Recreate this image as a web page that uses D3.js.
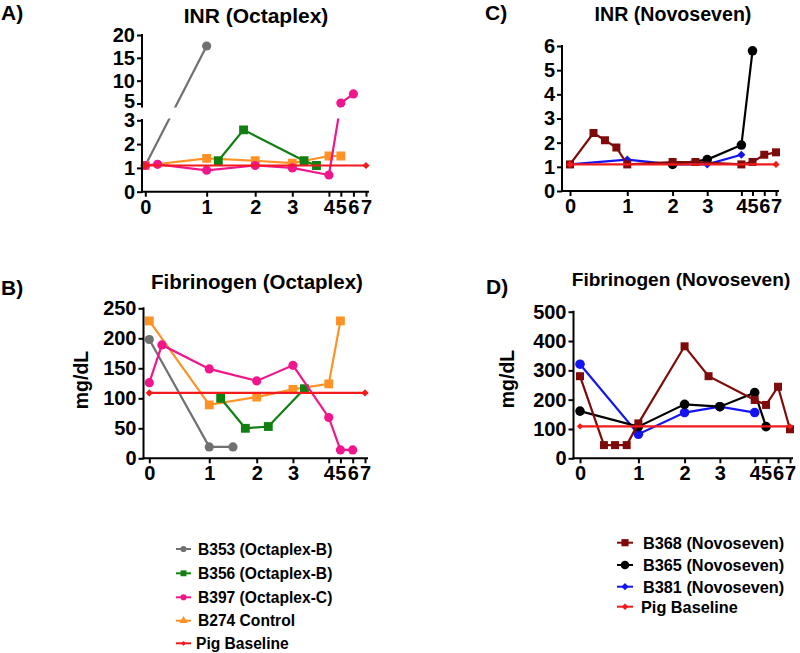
<!DOCTYPE html>
<html>
<head>
<meta charset="utf-8">
<script src="https://cdn.jsdelivr.net/npm/d3@7"></script>
<style>
body { margin: 0; background: #fff; }
svg { font-family: "Liberation Sans", Arial, sans-serif; font-weight: bold; }
.axis path, .axis line { stroke: #000; stroke-width: 2; }
.axis text { font-size: 20px; font-weight: bold; fill: #000; font-family: "Liberation Sans", Arial, sans-serif; }
</style>
</head>
<body>
<script>
// x axis: time points 0..7 (segmented axis, later points squeezed)
var xTicks = [0, 1, 2, 3, 4, 5, 6, 7];
var xTickFrac = [0, 0.278, 0.498, 0.666, 0.832, 0.886, 0.943, 1];

var octaSeries = ["B353 (Octaplex-B)", "B356 (Octaplex-B)", "B397 (Octaplex-C)", "B274 Control", "Pig Baseline"];
var novoSeries = ["B368 (Novoseven)", "B365 (Novoseven)", "B381 (Novoseven)", "Pig Baseline"];

// A) INR (Octaplex)
var inrOctTicksLow = [0, 1, 2, 3];
var inrOctTicksHigh = [5, 10, 15, 20];
var inrB353X = [0, 1];
var inrB353 = [1.1, 17.6];
var inrB356X = [1.24, 1.76, 3.32, 3.66];
var inrB356 = [1.3, 2.6, 1.3, 1.1];
var inrB397X = [0, 0.2, 1, 2, 3, 4, 5, 6];
var inrB397 = [1.1, 1.15, 0.9, 1.1, 1.0, 0.7, 5.1, 7.1];
var inrB274X = [0, 1, 2, 3, 4, 5];
var inrB274 = [1.1, 1.4, 1.3, 1.2, 1.5, 1.5];
var inrPigX = [0, 7];
var inrPig = [1.1, 1.1];

// C) INR (Novoseven)
var inrNovoTicks = [0, 1, 2, 3, 4, 5, 6];
var inrB368X = [0, 0.41, 0.61, 0.81, 1, 2, 2.66, 4, 5, 6, 7];
var inrB368 = [1.1, 2.4, 2.1, 1.8, 1.1, 1.2, 1.2, 1.1, 1.2, 1.5, 1.6];
var inrB365X = [2, 3, 4, 5];
var inrB365 = [1.1, 1.3, 1.9, 5.8];
var inrB381X = [0, 1, 2, 3, 4];
var inrB381 = [1.1, 1.3, 1.1, 1.1, 1.5];

// B) Fibrinogen (Octaplex), mg/dL
var fibOctTicks = [0, 50, 100, 150, 200, 250];
var fibB353X = [0, 1, 1.5];
var fibB353 = [198, 19, 19];
var fibB356X = [1.24, 1.76, 2.32, 3.32];
var fibB356 = [100, 50, 53, 116];
var fibB397X = [0, 0.21, 1, 2, 3, 4, 5, 6];
var fibB397 = [126, 189, 149, 129, 155, 68, 14, 14];
var fibB274X = [0, 1, 2, 3, 4, 5];
var fibB274 = [229, 89, 102, 115, 124, 229];
var fibPigX = [0, 7];
var fibPig = [109, 109];

// D) Fibrinogen (Novoseven), mg/dL
var fibNovoTicks = [0, 100, 200, 300, 400, 500];
var fibB368X = [0, 0.41, 0.6, 0.8, 1, 2, 2.68, 4, 5, 6, 7];
var fibB368 = [280, 45, 45, 45, 119, 382, 280, 199, 182, 244, 99];
var fibB365X = [0, 1, 2, 3, 4, 5];
var fibB365 = [161, 108, 184, 176, 224, 108];
var fibB381X = [0, 1, 2, 3, 4];
var fibB381 = [321, 82, 156, 176, 156];

var style = {
  "B353 (Octaplex-B)": { color: "#707070", shape: "circle", size: 66 },
  "B356 (Octaplex-B)": { color: "#118011", shape: "square", size: 78 },
  "B397 (Octaplex-C)": { color: "#f0168c", shape: "circle", size: 66 },
  "B274 Control": { color: "#ff9225", shape: "square", size: 78 },
  "Pig Baseline": { color: "#f21a1a", shape: "diamond", size: 26 },
  "B368 (Novoseven)": { color: "#7f0a0a", shape: "square", size: 64 },
  "B365 (Novoseven)": { color: "#000000", shape: "circle", size: 72 },
  "B381 (Novoseven)": { color: "#1414f0", shape: "diamond", size: 32 }
};

var W = 800, H = 653;
var svg = d3.select("body").append("svg").attr("width", W).attr("height", H);
var defs = svg.append("defs");

function symbolPath(shape, size) {
  var t = shape == "circle" ? d3.symbolCircle : d3.symbolSquare;
  return d3.symbol().type(t).size(size)();
}

function addMarker(g, shape, size, color, x, y) {
  g.append("path")
    .attr("d", symbolPath(shape, size))
    .attr("fill", color)
    .attr("transform", "translate(" + x + "," + y + ")" + (shape == "diamond" ? " rotate(45)" : ""));
}

function makeX(x0, x1) {
  return d3.scaleLinear()
    .domain(xTicks)
    .range(xTickFrac.map(function(f) { return x0 + f * (x1 - x0); }));
}

function drawSeries(g, x, y, xs, ys, name, opts) {
  var st = style[name];
  opts = opts || {};
  var shape = opts.shape || st.shape;
  var size = opts.size || st.size;
  var idx = d3.range(xs.length);
  var line = d3.line()
    .x(function(i) { return x(xs[i]); })
    .y(function(i) { return y(ys[i]); });
  g.append("path")
    .attr("d", line(idx))
    .attr("fill", "none")
    .attr("stroke", st.color)
    .attr("stroke-width", 2.2);
  idx.forEach(function(i) {
    addMarker(g, shape, size, st.color, x(xs[i]), y(ys[i]));
  });
}

function drawXAxis(x, yAxisX, y0) {
  var g = svg.append("g").attr("class", "axis")
    .attr("transform", "translate(0," + y0 + ")")
    .call(d3.axisBottom(x).tickValues(xTicks).tickFormat(d3.format("d")).tickSize(5).tickPadding(3).tickSizeOuter(0));
  g.select(".domain").remove();
  g.append("line").attr("x1", yAxisX).attr("x2", x(7) + 3).attr("y1", 0).attr("y2", 0);
}

function drawYAxis(y, ticks, ax, yTop, yBot) {
  var g = svg.append("g").attr("class", "axis")
    .attr("transform", "translate(" + ax + ",0)")
    .call(d3.axisLeft(y).tickValues(ticks).tickFormat(d3.format("d")).tickSize(5).tickPadding(2).tickSizeOuter(0));
  g.select(".domain").remove();
  g.append("line").attr("x1", 0).attr("x2", 0).attr("y1", yTop).attr("y2", yBot);
  return g;
}

function title(txt, cx, by, fs) {
  svg.append("text").attr("x", cx).attr("y", by).attr("text-anchor", "middle")
    .attr("font-size", fs).text(txt);
}
function letter(txt, lx, by) {
  svg.append("text").attr("x", lx).attr("y", by).attr("font-size", 21).text(txt);
}
function yLabel(txt, bx, cy) {
  svg.append("text").attr("transform", "translate(" + bx + "," + cy + ") rotate(-90)")
    .attr("text-anchor", "middle").attr("font-size", 19.5).text(txt);
}

// ---------- Panel A ----------
letter("A)", 1, 20);
title("INR (Octaplex)", 256, 23, 21);
var xA = makeX(145.3, 366);
var yA = d3.scaleLinear().domain([0, 3, 5, 20]).range([191.7, 120.3, 103.5, 35]);
var yALow = d3.scaleLinear().domain([0, 3]).range([191.7, 120.3]);
var yAHigh = d3.scaleLinear().domain([5, 20]).range([103.5, 35]);
var clipA = defs.append("clipPath").attr("id", "clipA");
clipA.append("rect").attr("x", 0).attr("y", 0).attr("width", 400).attr("height", 107.5);
clipA.append("rect").attr("x", 0).attr("y", 118.5).attr("width", 400).attr("height", 100);
var gA = svg.append("g").attr("clip-path", "url(#clipA)");
drawSeries(gA, xA, yA, inrB353X, inrB353, octaSeries[0]);
drawSeries(gA, xA, yA, inrB274X, inrB274, octaSeries[3]);
drawSeries(gA, xA, yA, inrB356X, inrB356, octaSeries[1]);
drawSeries(gA, xA, yA, inrB397X, inrB397, octaSeries[2]);
drawSeries(gA, xA, yA, inrPigX, inrPig, octaSeries[4]);
drawYAxis(yALow, inrOctTicksLow, 142, 119, 192.7);
var upA = drawYAxis(yAHigh, inrOctTicksHigh, 142, 34, 107.5);
upA.selectAll(".tick text").attr("dy", function(d) { return d == 5 ? "0.2em" : "0.32em"; });
drawXAxis(xA, 141, 191.7);

// ---------- Panel C ----------
letter("C)", 485, 20);
title("INR (Novoseven)", 673, 21, 19.6);
var xC = makeX(570, 776);
var yC = d3.scaleLinear().domain([0, 6]).range([191, 46]);
var gC = svg.append("g");
drawSeries(gC, xC, yC, inrB381X, inrB381, novoSeries[2]);
drawSeries(gC, xC, yC, inrB365X, inrB365, novoSeries[1]);
drawSeries(gC, xC, yC, inrB368X, inrB368, novoSeries[0]);
drawSeries(gC, xC, yC, inrPigX, inrPig, novoSeries[3]);
drawYAxis(yC, inrNovoTicks, 562, 45, 192);
drawXAxis(xC, 561, 191);

// ---------- Panel B ----------
letter("B)", 1, 295);
title("Fibrinogen (Octaplex)", 257, 289, 20.5);
yLabel("mg/dL", 88, 380);
var xB = makeX(149.3, 365);
var yB = d3.scaleLinear().domain([0, 250]).range([458.3, 308.3]);
var gB = svg.append("g");
drawSeries(gB, xB, yB, fibB353X, fibB353, octaSeries[0]);
drawSeries(gB, xB, yB, fibB274X, fibB274, octaSeries[3]);
drawSeries(gB, xB, yB, fibB356X, fibB356, octaSeries[1]);
drawSeries(gB, xB, yB, fibB397X, fibB397, octaSeries[2]);
drawSeries(gB, xB, yB, fibPigX, fibPig, octaSeries[4]);
drawYAxis(yB, fibOctTicks, 143.5, 307.3, 459.3);
drawXAxis(xB, 142.5, 458.3);

// ---------- Panel D ----------
letter("D)", 486, 294);
title("Fibrinogen (Novoseven)", 681, 286, 19.1);
yLabel("mg/dL", 514, 379);
var xD = makeX(580, 790);
var yD = d3.scaleLinear().domain([0, 500]).range([458.3, 311.7]);
var gD = svg.append("g");
drawSeries(gD, xD, yD, fibB381X, fibB381, novoSeries[2], { shape: "circle", size: 72 });
drawSeries(gD, xD, yD, fibB365X, fibB365, novoSeries[1]);
drawSeries(gD, xD, yD, fibB368X, fibB368, novoSeries[0]);
drawSeries(gD, xD, yD, fibPigX, fibPig, novoSeries[3], { size: 20 });
drawYAxis(yD, fibNovoTicks, 573.5, 310.7, 459.3);
drawXAxis(xD, 572.5, 458.3);

// ---------- Legends ----------
function legend(names, lx0, lx1, tx, rows, fs, mscale) {
  names.forEach(function(n, i) {
    var st = style[n];
    var yy = rows[i];
    var g = svg.append("g");
    g.append("line").attr("x1", lx0).attr("x2", lx1).attr("y1", yy).attr("y2", yy)
      .attr("stroke", st.color).attr("stroke-width", 2);
    if (n == "B274 Control") {
      g.append("path").attr("d", d3.symbol().type(d3.symbolTriangle).size(30)())
        .attr("fill", st.color).attr("transform", "translate(" + (lx0 + lx1) / 2 + "," + yy + ")");
    } else {
      addMarker(g, st.shape, st.size * mscale, st.color, (lx0 + lx1) / 2, yy);
    }
    svg.append("text").attr("x", n == "Pig Baseline" ? tx - 2 : tx).attr("y", yy)
      .attr("dy", "0.36em").attr("font-size", fs).text(n);
  });
}
legend(octaSeries, 176, 191, 198, [549, 573.3, 597.3, 620.7, 643.3], 15.6, 0.45);
legend(novoSeries, 617, 633, 643, [542.7, 565, 586.7, 606.7], 16.3, 0.8);
</script>
</body>
</html>
